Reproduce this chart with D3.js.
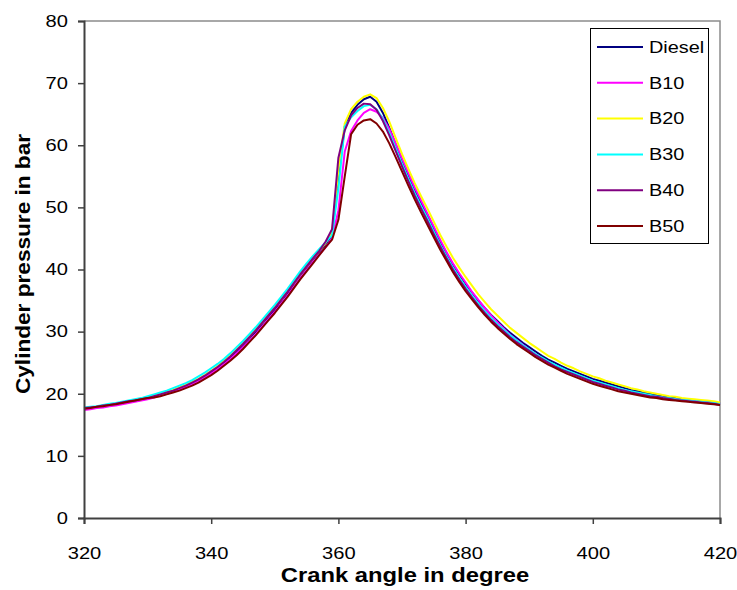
<!DOCTYPE html>
<html>
<head>
<meta charset="utf-8">
<script src="https://cdn.jsdelivr.net/npm/d3@7"></script>
<style>
  body { margin: 0; background: #fff; }
  svg { display: block; font-family: "Liberation Sans", Arial, sans-serif; }
</style>
</head>
<body>
<div id="chart"></div>
<script>
// crank angle, one reading per degree
const angles = d3.range(320, 421);

const seriesNames = ["Diesel", "B10", "B20", "B30", "B40", "B50"];
const seriesColors = ["#000080", "#ff00ff", "#ffff00", "#00ffff", "#800080", "#800000"];

const diesel = [17.6, 17.7, 17.9, 18.0, 18.2, 18.3, 18.5, 18.7, 18.9, 19.1,
  19.3, 19.5, 19.8, 20.1, 20.4, 20.8, 21.2, 21.7, 22.2, 22.8,
  23.5, 24.2, 25.0, 25.9, 26.8, 27.8, 28.9, 30.0, 31.2, 32.4,
  33.6, 34.9, 36.2, 37.6, 39.0, 40.3, 41.6, 42.8, 44.0, 45.5,
  55.0, 63.0, 65.2, 66.5, 67.4, 67.8, 67.0, 65.2, 62.8, 60.2,
  57.6, 55.2, 52.9, 50.8, 48.8, 46.6, 44.5, 42.6, 40.8, 39.2,
  37.7, 36.3, 35.0, 33.8, 32.7, 31.7, 30.7, 29.8, 29.0, 28.2,
  27.5, 26.8, 26.1, 25.5, 25.0, 24.5, 24.0, 23.6, 23.2, 22.8,
  22.4, 22.1, 21.8, 21.5, 21.2, 20.9, 20.6, 20.4, 20.2, 20.0,
  19.8, 19.6, 19.4, 19.3, 19.1, 19.0, 18.9, 18.8, 18.7, 18.6, 18.4];

const b10 = [17.4, 17.5, 17.7, 17.8, 18.0, 18.1, 18.3, 18.5, 18.7, 18.9,
  19.1, 19.4, 19.7, 20.0, 20.3, 20.7, 21.1, 21.6, 22.1, 22.7,
  23.3, 24.0, 24.8, 25.6, 26.5, 27.5, 28.5, 29.6, 30.8, 32.0,
  33.2, 34.5, 35.8, 37.2, 38.6, 39.9, 41.2, 42.4, 43.6, 45.0,
  49.5, 59.0, 62.3, 64.0, 65.2, 65.8, 65.4, 64.4, 62.6, 60.3,
  57.9, 55.5, 53.2, 51.1, 49.0, 46.9, 44.8, 42.8, 41.0, 39.4,
  37.9, 36.4, 35.1, 33.8, 32.6, 31.5, 30.5, 29.5, 28.7, 27.9,
  27.1, 26.4, 25.7, 25.1, 24.6, 24.1, 23.6, 23.2, 22.8, 22.4,
  22.0, 21.7, 21.4, 21.1, 20.8, 20.5, 20.3, 20.1, 19.9, 19.7,
  19.5, 19.4, 19.2, 19.1, 19.0, 18.9, 18.8, 18.7, 18.6, 18.5, 18.3];

const b20 = [17.7, 17.8, 17.9, 18.1, 18.2, 18.4, 18.6, 18.8, 19.0, 19.1,
  19.4, 19.6, 19.9, 20.2, 20.6, 21.0, 21.4, 21.9, 22.4, 23.0,
  23.7, 24.4, 25.3, 26.1, 27.1, 28.1, 29.1, 30.3, 31.4, 32.7,
  33.9, 35.1, 36.5, 37.8, 39.2, 40.5, 41.8, 43.0, 44.3, 46.0,
  56.0, 63.5, 65.8, 67.0, 67.8, 68.2, 67.6, 66.0, 63.8, 61.2,
  58.6, 56.2, 53.9, 51.8, 49.8, 47.7, 45.6, 43.7, 41.9, 40.3,
  38.8, 37.4, 36.0, 34.8, 33.6, 32.6, 31.6, 30.6, 29.8, 29.0,
  28.2, 27.5, 26.8, 26.1, 25.6, 25.0, 24.5, 24.1, 23.6, 23.2,
  22.8, 22.5, 22.1, 21.8, 21.5, 21.2, 20.9, 20.7, 20.4, 20.2,
  20.0, 19.8, 19.6, 19.5, 19.3, 19.2, 19.1, 19.0, 18.9, 18.8, 18.6];

const b30 = [17.8, 17.9, 18.0, 18.2, 18.4, 18.5, 18.7, 18.9, 19.1, 19.3,
  19.6, 19.9, 20.2, 20.5, 20.9, 21.3, 21.7, 22.2, 22.8, 23.4,
  24.1, 24.8, 25.6, 26.5, 27.5, 28.5, 29.6, 30.7, 31.9, 33.1,
  34.3, 35.6, 36.9, 38.3, 39.7, 41.0, 42.2, 43.3, 44.4, 45.5,
  53.0, 63.0, 64.5, 65.5, 66.3, 66.5, 65.8, 64.2, 62.0, 59.5,
  57.0, 54.6, 52.3, 50.2, 48.2, 46.1, 44.0, 42.1, 40.3, 38.7,
  37.2, 35.8, 34.5, 33.3, 32.2, 31.2, 30.3, 29.4, 28.6, 27.8,
  27.1, 26.4, 25.8, 25.2, 24.7, 24.2, 23.7, 23.3, 22.9, 22.5,
  22.1, 21.8, 21.5, 21.2, 20.9, 20.6, 20.4, 20.2, 20.0, 19.8,
  19.6, 19.4, 19.3, 19.1, 19.0, 18.9, 18.8, 18.7, 18.6, 18.5, 18.3];

const b40 = [17.7, 17.8, 17.9, 18.1, 18.2, 18.4, 18.6, 18.8, 18.9, 19.1,
  19.3, 19.6, 19.9, 20.2, 20.5, 20.9, 21.3, 21.8, 22.3, 22.9,
  23.6, 24.3, 25.1, 26.0, 27.0, 28.0, 29.1, 30.2, 31.4, 32.6,
  33.8, 35.1, 36.4, 37.8, 39.2, 40.5, 41.8, 43.0, 44.5, 46.5,
  58.0, 62.4, 64.8, 66.0, 66.7, 66.6, 65.7, 63.9, 61.6, 59.1,
  56.6, 54.2, 51.9, 49.8, 47.8, 45.7, 43.7, 41.8, 40.0, 38.4,
  36.9, 35.5, 34.2, 33.0, 31.9, 30.9, 30.0, 29.1, 28.3, 27.6,
  26.9, 26.2, 25.6, 25.0, 24.4, 23.9, 23.5, 23.1, 22.7, 22.3,
  21.9, 21.6, 21.3, 21.0, 20.7, 20.5, 20.2, 20.0, 19.8, 19.6,
  19.5, 19.3, 19.2, 19.0, 18.9, 18.8, 18.7, 18.6, 18.5, 18.4, 18.2];

const b50 = [17.6, 17.7, 17.9, 18.0, 18.2, 18.3, 18.5, 18.7, 18.9, 19.1,
  19.3, 19.4, 19.6, 19.9, 20.2, 20.5, 20.9, 21.3, 21.8, 22.4,
  23.0, 23.7, 24.5, 25.3, 26.2, 27.2, 28.3, 29.4, 30.6, 31.8,
  33.0, 34.3, 35.6, 37.0, 38.4, 39.7, 41.0, 42.3, 43.6, 44.8,
  48.0, 55.0, 61.8, 63.3, 64.0, 64.2, 63.5, 62.2, 60.3, 58.1,
  55.8, 53.5, 51.3, 49.2, 47.2, 45.2, 43.2, 41.4, 39.6, 38.0,
  36.5, 35.2, 33.9, 32.7, 31.6, 30.6, 29.7, 28.8, 28.0, 27.3,
  26.6, 25.9, 25.3, 24.7, 24.2, 23.7, 23.2, 22.8, 22.4, 22.0,
  21.6, 21.3, 21.0, 20.7, 20.4, 20.2, 20.0, 19.8, 19.6, 19.4,
  19.3, 19.1, 19.0, 18.9, 18.8, 18.7, 18.6, 18.5, 18.4, 18.3, 18.2];

const xTicks = [320, 340, 360, 380, 400, 420];
const yTicks = [0, 10, 20, 30, 40, 50, 60, 70, 80];

const seriesValues = [diesel, b10, b20, b30, b40, b50];

const width = 737, height = 590;
const margin = { left: 84, right: 17, top: 21, bottom: 72 };
const stretch = 1.22; // the original text runs wider than Arial

const svg = d3.select("#chart").append("svg")
  .attr("width", width)
  .attr("height", height);

const x = d3.scaleLinear().domain([320, 420]).range([margin.left, width - margin.right]);
const y = d3.scaleLinear().domain([0, 80]).range([height - margin.bottom, margin.top]);

// top and right frame of the plot area
svg.append("path")
  .attr("d", `M${x(320)},${y(80)}H${x(420)}V${y(0)}`)
  .attr("fill", "none")
  .attr("stroke", "#8c8c8c")
  .attr("stroke-width", 1.5);

// lines
const line = d3.line()
  .x((d, i) => x(angles[i]))
  .y(d => y(d));

svg.append("g")
  .selectAll("path")
  .data(seriesValues)
  .join("path")
  .attr("d", line)
  .attr("fill", "none")
  .attr("stroke", (d, i) => seriesColors[i])
  .attr("stroke-width", 2)
  .attr("stroke-linejoin", "round");

// axes
const xAxis = svg.append("g")
  .attr("transform", `translate(0,${y(0)})`)
  .call(d3.axisBottom(x).tickValues(xTicks).tickSize(6).tickPadding(23));

const yAxis = svg.append("g")
  .attr("transform", `translate(${x(320)},0)`)
  .call(d3.axisLeft(y).tickValues(yTicks).tickSize(6).tickPadding(10));

[xAxis, yAxis].forEach(a => {
  a.select(".domain").attr("stroke", "#404040").attr("stroke-width", 2);
  a.selectAll(".tick line").attr("stroke", "#404040").attr("stroke-width", 1.5);
  a.selectAll(".tick text")
    .attr("fill", "#000")
    .style("font-size", "16.5px")
    .style("font-family", "'Liberation Sans', Arial, sans-serif")
    .attr("transform", `scale(${stretch},1)`);
});
yAxis.selectAll(".tick text").attr("x", -16 / stretch);

// axis titles
svg.append("text")
  .attr("transform", `translate(405,582) scale(${stretch},1)`)
  .attr("text-anchor", "middle")
  .style("font-size", "19.5px")
  .style("font-weight", "bold")
  .text("Crank angle in degree");

svg.append("text")
  .attr("transform", `translate(30,264) rotate(-90) scale(1.16,1)`)
  .attr("text-anchor", "middle")
  .style("font-size", "19.5px")
  .style("font-weight", "bold")
  .text("Cylinder pressure in bar");

// legend
const legend = svg.append("g").attr("transform", "translate(590,28)");

legend.append("rect")
  .attr("x", 0.5)
  .attr("y", 0.5)
  .attr("width", 118)
  .attr("height", 215)
  .attr("fill", "#fff")
  .attr("stroke", "#000")
  .attr("stroke-width", 1);

const items = legend.selectAll("g.item")
  .data(seriesNames)
  .join("g")
  .attr("class", "item")
  .attr("transform", (d, i) => `translate(0,${19 + i * 35.8})`);

items.append("line")
  .attr("x1", 7)
  .attr("x2", 53)
  .attr("stroke", (d, i) => seriesColors[i])
  .attr("stroke-width", 2);

items.append("text")
  .attr("transform", `translate(59,0) scale(${stretch},1)`)
  .attr("dy", "0.35em")
  .style("font-size", "16.3px")
  .text(d => d);
</script>
</body>
</html>
